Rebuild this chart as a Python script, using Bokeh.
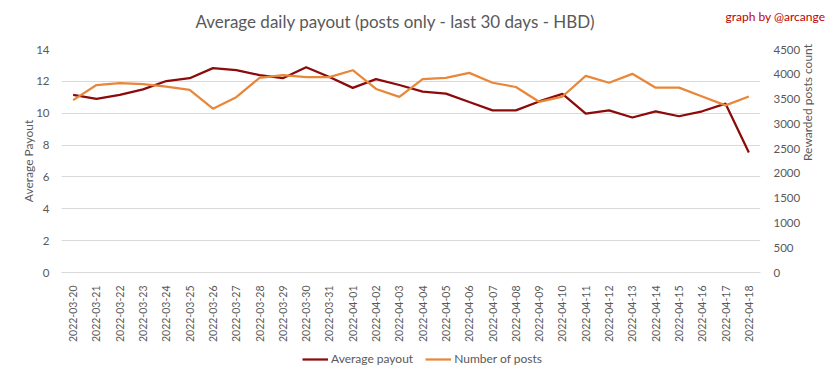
import math
from bokeh.plotting import figure
from bokeh.layouts import column, row
from bokeh.models import (ColumnDataSource, LinearAxis, Range1d, Legend, LegendItem,
                          FixedTicker, Label, FactorRange, Div)
from bokeh.embed import file_html
from bokeh.resources import INLINE

dates = ["2022-03-20", "2022-03-21", "2022-03-22", "2022-03-23", "2022-03-24", "2022-03-25",
         "2022-03-26", "2022-03-27", "2022-03-28", "2022-03-29", "2022-03-30", "2022-03-31",
         "2022-04-01", "2022-04-02", "2022-04-03", "2022-04-04", "2022-04-05", "2022-04-06",
         "2022-04-07", "2022-04-08", "2022-04-09", "2022-04-10", "2022-04-11", "2022-04-12",
         "2022-04-13", "2022-04-14", "2022-04-15", "2022-04-16", "2022-04-17", "2022-04-18"]
avg_payout = [11.15, 10.9, 11.15, 11.5, 12.02, 12.2, 12.83, 12.7, 12.39, 12.2, 12.89, 12.27,
              11.59, 12.14, 11.77, 11.36, 11.23, 10.70, 10.18, 10.18, 10.74, 11.21, 9.98, 10.18,
              9.73, 10.12, 9.81, 10.12, 10.6, 7.54]
num_posts = [3478, 3783, 3823, 3803, 3750, 3684, 3305, 3538, 3929, 3982, 3942, 3942,
             4082, 3703, 3544, 3903, 3929, 4029, 3829, 3743, 3445, 3551, 3969, 3829,
             4009, 3730, 3730, 3551, 3372, 3551]
left_ticks = [0, 2, 4, 6, 8, 10, 12, 14]
right_ticks = [0, 500, 1000, 1500, 2000, 2500, 3000, 3500, 4000, 4500]
series_names = ["Average payout", "Number of posts"]

FONT = "Lato"
GREY = "#595959"
RED = "#8B0A0A"
ORANGE = "#E8873A"
W = 825


def blank(width, height, left=0):
    f = figure(width=width, height=height, x_range=Range1d(0, 1), y_range=Range1d(0, 1),
               x_axis_type=None, y_axis_type=None, output_backend="svg", toolbar_location=None,
               min_border=0, min_border_left=left)
    f.outline_line_color = None
    f.grid.grid_line_color = None
    return f


src = ColumnDataSource(dict(d=dates, a=avg_payout, n=num_posts))

# ---- header: title and credit
top = blank(716, 34, left=61)
top.add_layout(Label(x=134, y=13, x_units="screen", y_units="screen",
                     text="Average daily payout (posts only - last 30 days - HBD)",
                     text_font=FONT, text_font_size="17px", text_color=GREY,
                     text_align="left", text_baseline="middle"))
credit = Div(text="graph by @arcange", width=109, height=34,
             styles={"color": "#C00000", "font-family": "Lato", "font-size": "12px",
                     "text-align": "right", "padding-top": "8px", "margin": "0",
                     "box-sizing": "border-box", "white-space": "nowrap"})
header = row(top, credit, spacing=0)

# ---- main chart
p = figure(width=W, height=311,
           x_range=FactorRange(*dates, range_padding=0),
           y_range=Range1d(0, 14), output_backend="svg", toolbar_location=None,
           min_border_left=61, min_border_right=65, min_border_top=15, min_border_bottom=70)
p.extra_y_ranges = {"posts": Range1d(0, 4500)}
p.outline_line_color = None

p.yaxis.ticker = FixedTicker(ticks=left_ticks)
p.yaxis.axis_label = "Average Payout"
ax_r = LinearAxis(y_range_name="posts", ticker=FixedTicker(ticks=right_ticks),
                  axis_label="Rewarded posts count")
p.add_layout(ax_r, "right")
for ax in [p.yaxis[0], ax_r]:
    ax.axis_line_color = None
    ax.major_tick_line_color = None
    ax.minor_tick_line_color = None
    ax.major_label_text_font = FONT
    ax.major_label_text_font_size = "11.5px"
    ax.major_label_text_color = GREY
    ax.axis_label_text_font = FONT
    ax.axis_label_text_font_size = "12px"
    ax.axis_label_text_font_style = "normal"
    ax.axis_label_text_color = GREY
p.yaxis[0].major_label_standoff = 6
ax_r.major_label_standoff = 7
p.yaxis[0].axis_label_standoff = -3
ax_r.axis_label_standoff = 4
ax_r.axis_label_orientation = math.pi / 2

xa = p.xaxis[0]
xa.major_label_orientation = math.pi / 2
xa.axis_line_color = "#d9d9d9"
xa.major_tick_line_color = None
xa.major_label_text_font = FONT
xa.major_label_text_font_size = "10.5px"
xa.major_label_text_color = GREY
xa.major_label_standoff = 7

p.xgrid.grid_line_color = None
p.ygrid.grid_line_color = "#d9d9d9"
p.ygrid.ticker = FixedTicker(ticks=left_ticks)

p.line("d", "a", source=src, line_color=RED, line_width=2.25)
p.line("d", "n", source=src, line_color=ORANGE, line_width=2.25, y_range_name="posts")

# ---- legend strip (its own renderers lie outside its 0..1 frame, so only the legend shows)
leg = blank(W, 34)
l1 = leg.line("a", "n", source=src, line_color=RED, line_width=2.25)
l2 = leg.line("n", "a", source=src, line_color=ORANGE, line_width=2.25)
legend = Legend(items=[LegendItem(label=series_names[0], renderers=[l1]),
                       LegendItem(label=series_names[1], renderers=[l2])],
                orientation="horizontal", location=(241, 13),
                label_text_font=FONT, label_text_font_size="12px", label_text_color=GREY,
                border_line_color=None, background_fill_alpha=0,
                glyph_width=26, glyph_height=14, label_standoff=3, spacing=12,
                padding=0, margin=0)
leg.add_layout(legend)

layout = column(header, p, leg, spacing=0)
open("out.html", "w").write(file_html(layout, INLINE))
